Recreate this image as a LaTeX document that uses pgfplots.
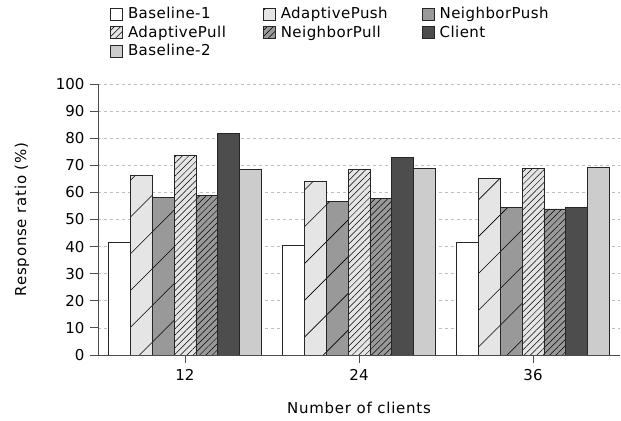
\documentclass[border=0pt]{standalone}
\usepackage{fontspec}
\setmainfont{DejaVu Sans}
\newfontfamily\spacedfont{DejaVu Sans}[LetterSpace=5]
\newfontfamily\legendfont{DejaVu Sans}[LetterSpace=3]
\usepackage{pgfplots}
\pgfplotsset{compat=1.18}
\usetikzlibrary{patterns.meta}

\definecolor{lightfill}{HTML}{E5E5E5}
\definecolor{midfill}{HTML}{999999}
\definecolor{darkfill}{HTML}{4D4D4D}
\definecolor{palefill}{HTML}{CCCCCC}
\definecolor{gridgray}{HTML}{BEBEBE}

\tikzset{
  sparsehatch/.style={postaction={pattern={Lines[angle=45,distance=26bp,line width=0.6bp]},pattern color=black}},
  densehatch/.style={postaction={pattern={Lines[angle=45,distance=4.5bp,line width=0.5bp]},pattern color=black}},
}
\pgfplotsset{
  boxlegend/.style={legend image code/.code={\draw[##1] (0bp,-5.5bp) rectangle (12bp,6.5bp);}},
  % the sparse hatch is too coarse to show in a legend swatch
  plainlegend/.style={legend image code/.code={\draw[draw=black!85, line width=0.8bp, fill=#1] (0bp,-5.5bp) rectangle (12bp,6.5bp);}},
  barstyle/.style={draw=black!85, line width=0.8bp, boxlegend},
}
% fixed-width legend texts keep the three columns evenly spaced
\newcommand{\entryA}[1]{\makebox[136bp][l]{\hspace{3bp}\legendfont #1}}
\newcommand{\entryB}[1]{\makebox[142bp][l]{\hspace{3bp}\legendfont #1}}
\newcommand{\entryC}[1]{\makebox[100bp][l]{\hspace{3bp}\legendfont #1}}

\begin{document}
\begin{tikzpicture}
\path[use as bounding box] (0,0) rectangle (621bp,421bp);
\begin{axis}[
  at={(98bp,66bp)}, anchor=south west,
  scale only axis, width=522bp, height=271bp,
  font=\fontsize{15bp}{18bp}\selectfont,
  xmin=0.5, xmax=3.5, ymin=0, ymax=100,
  ybar, bar width=0.126,
  xtick={1,2,3}, xticklabels={12,24,36},
  ytick={0,10,...,100},
  axis x line*=bottom, axis y line*=left,
  axis line style={draw=black!70, line width=0.8bp},
  tick style={draw=black!70, line width=0.8bp},
  tick align=outside, major tick length=8bp,
  /pgf/number format/assume math mode=true,
  ymajorgrids, grid style={dashed, gridgray, line width=0.7bp},
  xticklabel style={yshift=-3bp},
  yticklabel style={xshift=-2bp},
  xlabel={\spacedfont Number of clients},
  ylabel={\spacedfont Response ratio (\%)},
  xlabel style={at={(axis description cs:0.5,-0.197)}, anchor=center},
  ylabel style={at={(axis description cs:-0.1456,0.5)}, anchor=center},
  legend columns=3,
  legend cell align=left,
  legend style={draw=none, fill=none, inner sep=0pt,
    at={(axis description cs:0.023,1.29)}, anchor=north west,
    nodes={inner sep=2bp, text height=11bp, text depth=3bp},
    row sep=0.5bp, column sep=0bp},
]
\addplot[barstyle, fill=white, bar shift=-0.378]
  coordinates {(1,41.5) (2,40.5) (3,41.7)};
\addplot[barstyle, fill=lightfill, sparsehatch, bar shift=-0.252, plainlegend=lightfill]
  coordinates {(1,66.4) (2,64.2) (3,65.3)};
\addplot[barstyle, fill=midfill, sparsehatch, bar shift=-0.126, plainlegend=midfill]
  coordinates {(1,58.0) (2,56.8) (3,54.6)};
\addplot[barstyle, fill=lightfill, densehatch, bar shift=0]
  coordinates {(1,73.5) (2,68.5) (3,69.0)};
\addplot[barstyle, fill=midfill, densehatch, bar shift=0.126]
  coordinates {(1,58.9) (2,57.9) (3,53.9)};
\addplot[barstyle, fill=darkfill, bar shift=0.252]
  coordinates {(1,81.8) (2,72.8) (3,54.6)};
\addplot[barstyle, fill=palefill, bar shift=0.378]
  coordinates {(1,68.5) (2,68.8) (3,69.2)};
\legend{\entryA{Baseline-1}, \entryB{AdaptivePush}, \entryC{NeighborPush},
        \entryA{AdaptivePull}, \entryB{NeighborPull}, \entryC{Client},
        \entryA{Baseline-2}}
\end{axis}
\end{tikzpicture}
\end{document}
